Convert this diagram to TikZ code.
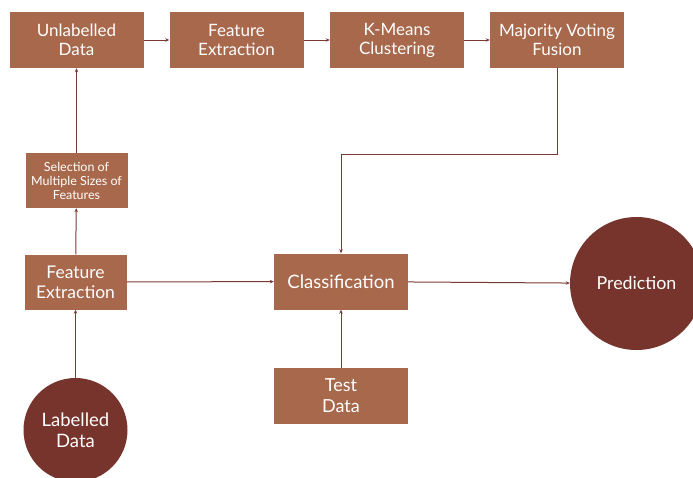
\documentclass[tikz,border=0pt]{standalone}
\usepackage{fontspec}
\setmainfont{Lato}
\usepackage{xcolor}
\usetikzlibrary{positioning,arrows.meta}
\definecolor{boxbrown}{HTML}{A8684C}
\definecolor{circbrown}{HTML}{76342C}
\definecolor{linebrown}{HTML}{7A3A34}

\begin{document}
\begin{tikzpicture}[
    x=1pt, y=-1pt,
    box/.style={rectangle, fill=boxbrown, text=white, align=center,
                minimum width=134pt, minimum height=56pt, inner sep=0pt,
                font=\fontsize{17}{19}\selectfont},
    smallbox/.style={box, minimum width=102pt, minimum height=55pt},
    blob/.style={circle, fill=circbrown, text=white, align=center, inner sep=0pt,
                 font=\fontsize{18.5}{21}\selectfont},
    arrow/.style={-{Stealth[length=4pt, width=3.5pt]}, line width=1pt, linebrown},
]
    \useasboundingbox (0,0) rectangle (693,477);
    \clip (0,0) rectangle (693,477);

    % Top row
    \node[box] (unlab) at (76.5, 40) {Unlabelled\\Data};
    \node[box] (featA) at (236.5, 40) {Feature\\Extraction};
    \node[box] (kmeans) at (397, 40) {K-Means\\Clustering};
    \node[box] (vote) at (557, 40) {Majority Voting\\Fusion};

    % Left column
    \node[smallbox, font=\fontsize{12.5}{14}\selectfont] (select) at (76.5, 180.5)
        {Selection of\\Multiple Sizes of\\Features};
    \node[smallbox, font=\fontsize{17.5}{20}\selectfont] (featB) at (75.5, 282) {Feature\\Extraction};
    \node[blob, minimum size=104pt] (labelled) at (75.5, 430) {Labelled\\Data};

    % Middle and right
    \node[box, font=\fontsize{18.5}{21}\selectfont] (classify) at (341, 281.5) {Classification};
    \node[box, font=\fontsize{18}{21}\selectfont] (test) at (341, 396) {Test\\Data};
    \node[blob, minimum size=133pt, font=\fontsize{17.8}{20}\selectfont] (predict) at (636.5, 283.5) {Prediction};

    % Connectors
    \draw[arrow] (unlab) -- (featA);
    \draw[arrow] (featA) -- (kmeans);
    \draw[arrow] (kmeans) -- (vote);
    \draw[arrow] (vote.south) -- ++(0, 86) -| (classify.north);

    \draw[arrow] (labelled) -- (featB);
    \draw[arrow] (featB) -- (select);
    \draw[arrow] (select) -- (unlab);

    \draw[arrow] (featB) -- (classify);
    \draw[arrow] (test) -- (classify);
    \draw[arrow] (classify) -- (predict);
\end{tikzpicture}
\end{document}
